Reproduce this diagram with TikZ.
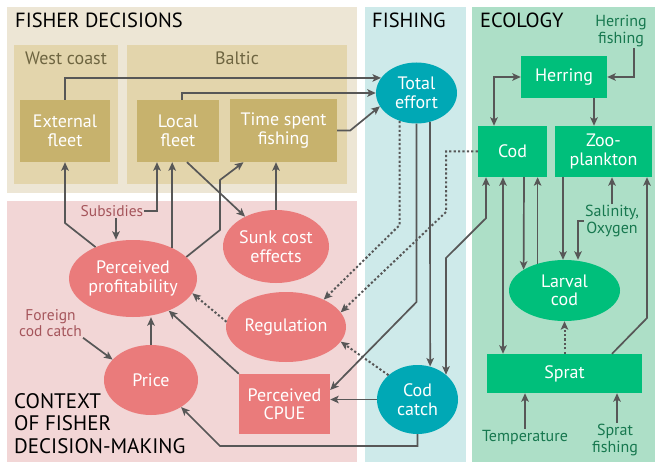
\documentclass[tikz,border=0pt]{standalone}
\usepackage{fontspec}
\setmainfont{PT Sans}
\usetikzlibrary{arrows.meta,shapes.geometric}
\definecolor{fishbg}{HTML}{EDE6D5}
\definecolor{innerbg}{HTML}{E3D5AC}
\definecolor{boxc}{HTML}{C7B26D}
\definecolor{panellab}{HTML}{6E6541}
\definecolor{ctxbg}{HTML}{F2D6D6}
\definecolor{pinkc}{HTML}{EA7B7B}
\definecolor{pinklab}{HTML}{A5555B}
\definecolor{fshbg}{HTML}{CEEAEA}
\definecolor{tealc}{HTML}{00A8B5}
\definecolor{ecobg}{HTML}{ADDFC7}
\definecolor{greenc}{HTML}{00BF7B}
\definecolor{greenlab}{HTML}{17784F}
\definecolor{linec}{HTML}{575757}
\tikzset{
  base/.style={text=white, align=center, inner sep=0pt, font=\fontsize{18}{18.5}\selectfont},
  fbox/.style={base, rectangle, fill=boxc},
  pell/.style={base, ellipse, fill=pinkc},
  pbox/.style={base, rectangle, fill=pinkc},
  tell/.style={base, ellipse, fill=tealc},
  gbox/.style={base, rectangle, fill=greenc},
  gell/.style={base, ellipse, fill=greenc},
  title/.style={anchor=base west, inner sep=0pt, font=\fontsize{20.5}{22}\selectfont, text=black},
  plab/.style={inner sep=0pt, font=\fontsize{18}{18}\selectfont, text=panellab},
  pinktxt/.style={inner sep=1pt, align=center, font=\fontsize{15.5}{16}\selectfont, text=pinklab},
  greentxt/.style={inner sep=1pt, align=center, font=\fontsize{16}{16.5}\selectfont, text=greenlab},
  arr/.style={draw=linec, line width=1.7pt, -{Stealth[length=8.5pt,width=7.5pt,inset=2pt]}},
  arrtwo/.style={draw=linec, line width=1.7pt, {Stealth[length=8.5pt,width=7.5pt,inset=2pt]}-{Stealth[length=8.5pt,width=7.5pt,inset=2pt]}},
  arrdot/.style={arr, line width=2pt, dash pattern=on 2.2pt off 2.2pt},
}
\begin{document}
\begin{tikzpicture}[x=1pt,y=-1pt]
\useasboundingbox (0,0) rectangle (655,462);
% panels
\fill[fishbg] (7,7) rectangle (357,193);
\fill[innerbg] (14,45) rectangle (118,184);
\fill[innerbg] (127,45) rectangle (347,184);
\fill[ctxbg] (7,201) rectangle (357,462);
\fill[fshbg] (365,7) rectangle (466,462);
\fill[ecobg] (472,7) rectangle (655,462);
% titles
\node[title] (tfd) at (15,28) {FISHER DECISIONS};
\node[title] (tfi) at (372,28) {FISHING};
\node[title] (tec) at (480,28) {ECOLOGY};
\node[title, anchor=north west, align=left, font=\fontsize{21}{22.5}\selectfont] (tctx) at (14,393) {CONTEXT\\OF FISHER\\DECISION-MAKING};
\node[plab] (lwc) at (66,58) {West coast};
\node[plab] (lba) at (237,58) {Baltic};
% fisher decision nodes
\node[fbox, minimum width=90pt, minimum height=62pt] (ext) at (65,131) {External\\fleet};
\node[fbox, minimum width=82pt, minimum height=62pt] (loc) at (178,131) {Local\\fleet};
\node[fbox, minimum width=107pt, minimum height=63pt] (time) at (283.5,130.5) {Time spent\\fishing};
% fishing
\node[tell, minimum width=81pt, minimum height=61pt] (effort) at (416.5,93) {Total\\effort};
\node[tell, minimum width=81pt, minimum height=69pt] (catch) at (417.5,399.5) {Cod\\catch};
% ecology
\node[gbox, minimum width=86pt, minimum height=42pt] (herring) at (564,77) {Herring};
\node[gbox, minimum width=69pt, minimum height=51pt] (cod) at (512.5,151.5) {Cod};
\node[gbox, minimum width=97pt, minimum height=51pt] (zoo) at (603.5,151.5) {Zoo-\\plankton};
\node[gell, minimum width=111pt, minimum height=61pt] (larval) at (564.5,290.5) {Larval\\cod};
\node[gbox, minimum width=155pt, minimum height=39pt] (sprat) at (564.5,373.5) {Sprat};
\node[greentxt] (hf) at (621,31) {Herring\\fishing};
\node[greentxt] (sal) at (612,221) {Salinity,\\Oxygen};
\node[greentxt] (temp) at (525,437) {Temperature};
\node[greentxt] (sf) at (615,440) {Sprat\\fishing};
% context
\node[pell, minimum width=106pt, minimum height=73pt] (sunk) at (276,246.5) {Sunk cost\\effects};
\node[pell, minimum width=128pt, minimum height=77pt] (profit) at (133,278.5) {Perceived\\profitability};
\node[pell, minimum width=120pt, minimum height=70pt] (reg) at (286,327) {Regulation};
\node[pell, minimum width=94pt, minimum height=70pt] (price) at (151,380) {Price};
\node[pbox, minimum width=91pt, minimum height=60pt] (cpue) at (284.5,404) {Perceived\\CPUE};
\node[pinktxt] (subs) at (112,211) {Subsidies};
\node[pinktxt] (foreign) at (50.5,323) {Foreign\\cod catch};
% connectors: fisher decisions
\draw[arr] (ext.north) |- (effort.157);
\draw[arr] ([xshift=4pt]loc.north) |- (effort.west);
\draw[arr] (time.east) -- ++(13,0) -- (effort.200);
\draw[arr] (profit.140) -- (65,223) -- (ext.south);
\draw[arr] (subs.east) -| ([xshift=-21pt]loc.south);
\draw[arr] ([xshift=4pt]subs.south) -- ([xshift=4pt]subs.south |- profit.north);
\draw[arr] (profit.38) -- (profit.38 |- loc.south);
\draw[arr] (profit.22) -- (220,230) -- (220,180) -- ([xshift=-40pt]time.south);
\draw[arr] ([xshift=9pt]loc.south) -- (sunk.136);
\draw[arr] (sunk.north) -- (sunk.north |- time.south);
% context
\draw[arrdot] (reg.175) -- (profit.-14);
\draw[arr] (cpue.north west) -- (profit.-42);
\draw[arr] (price.north) -- (price.north |- profit.south);
\draw[arr] (foreign.south east) -- (price.152);
\draw[arr] (catch.south) |- (220,446) -- (price.-42);
\draw[arr] (catch.west) -- (catch.west -| cpue.east);
\draw[arrdot] (catch.140) -- (reg.-15);
\draw[arrdot] (effort.239) -- (effort.239 |- 0,225) -- (reg.36);
\draw[arrdot] (cod.west) -| (446,212) -- (reg.15);
\draw[arr] (effort.south) -- (effort.south |- 0,302) -- ([yshift=14pt]cpue.east);
\draw[arr] (effort.-65) -- (catch.69);
\draw[arrtwo] ([xshift=-26.5pt]cod.south) -- ++(0,41) -- (446,258) -- (catch.41);
% ecology
\draw[arrtwo] (herring.west) -| ([xshift=-18.5pt]cod.north);
\draw[arr] ([xshift=13pt]hf.south) |- (herring.east);
\draw[arr] ([xshift=30pt]herring.south) -- ([xshift=30pt]herring.south |- zoo.north);
\draw[arrtwo] ([xshift=-9.5pt]cod.south) -- ([xshift=-9.5pt]cod.south |- sprat.north);
\draw[arr] ([xshift=11.5pt]cod.south) -- (larval.153);
\draw[arr] (larval.135) -- (larval.135 |- cod.south);
\draw[arr] ([xshift=-40.5pt]zoo.south) -- ([xshift=-40.5pt]zoo.south |- larval.north);
\draw[arr] (sal.west) -| ([xshift=13.5pt]larval.north);
\draw[arr] (sal.north) -- (sal.north |- zoo.south);
\draw[arr] ([xshift=47.5pt]sprat.north) -- (647,318) -- ([xshift=43.5pt]zoo.south);
\draw[arrdot] (sprat.north) -- (larval.south);
\draw[arr] (temp.north) -- (temp.north |- sprat.south);
\draw[arr] ([xshift=2pt]sf.north) -- ([xshift=2pt]sf.north |- sprat.south);
\end{tikzpicture}
\end{document}
